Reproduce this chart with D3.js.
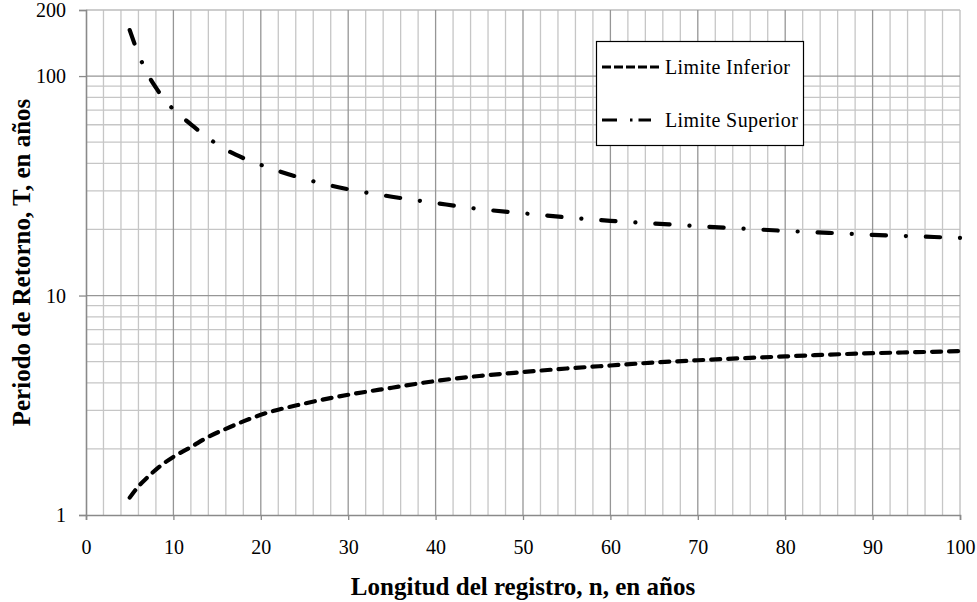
<!DOCTYPE html>
<html>
<head>
<meta charset="utf-8">
<script src="https://cdn.jsdelivr.net/npm/d3@7"></script>
<style>
  html, body { margin: 0; padding: 0; background: #ffffff; }
  svg { display: block; font-family: "Liberation Serif", "Times New Roman", serif; }
</style>
</head>
<body>
<div id="chart"></div>
<script>
// longitud del registro (n, años)
var registro = [ 5, 6, 7, 8, 9, 10, 12, 14, 16, 18, 20, 25, 30, 35, 40, 45, 50, 55, 60, 65, 70, 75, 80, 85, 90, 95, 100 ];

// periodo de retorno T, limites
var limiteInferior = [ 1.2, 1.35, 1.48, 1.61, 1.73, 1.84, 2.04, 2.27, 2.47, 2.67, 2.86, 3.22, 3.53, 3.8, 4.08, 4.3, 4.48, 4.65, 4.8, 4.95, 5.07, 5.18, 5.28, 5.38, 5.46, 5.52, 5.58 ];
var limiteSuperior = [ 162, 126, 103, 88.5, 78, 70.4, 60.3, 52.1, 46.2, 42.3, 39.4, 34, 30.5, 28.2, 26.4, 24.8, 23.7, 22.7, 21.9, 21.3, 20.7, 20.2, 19.7, 19.3, 18.9, 18.6, 18.3 ];

var xTicks = [ 0, 10, 20, 30, 40, 50, 60, 70, 80, 90, 100 ];
var yTicks = [ 1, 10, 100, 200 ];
var seriesNames = [ 'Limite Inferior', 'Limite Superior' ];

( function()
{
  var width = 977,
      height = 602,
      margin = { top: 10, right: 17, bottom: 87, left: 86 },
      x,
      y,
      svg,
      plot,
      grid,
      line,
      i
  ;

  x = d3.scaleLinear()
    .domain( [ 0, 100 ] )
    .range( [ margin.left, width - margin.right ] );

  y = d3.scaleLog()
    .domain( [ 1, 200 ] )
    .range( [ height - margin.bottom, margin.top ] );

  svg = d3.select('#chart')
    .append('svg')
      .attr('width', width )
      .attr('height', height );

  grid = svg.append('g').attr('class', 'grid');

  // minor vertical lines every 2 years
  grid.selectAll('line.vminor')
    .data( d3.range( 2, 100, 2 ).filter( function(d) { return d % 10 !== 0; } ) )
    .enter()
      .append('line')
      .attr('x1', x ).attr('x2', x )
      .attr('y1', y(1) ).attr('y2', y(200) )
      .attr('stroke', '#c6c6c6')
      .attr('stroke-width', 1.3 );

  // minor horizontal lines 2..9, 20..90
  var minorY = [];
  for( i = 2; i <= 9; i++ )
  {
    minorY.push( i );
    minorY.push( i * 10 );
  }
  grid.selectAll('line.hminor')
    .data( minorY )
    .enter()
      .append('line')
      .attr('x1', x(0) ).attr('x2', x(100) )
      .attr('y1', y ).attr('y2', y )
      .attr('stroke', '#c6c6c6')
      .attr('stroke-width', 1.3 );

  // top border
  grid.append('line')
    .attr('x1', x(0) ).attr('x2', x(100) )
    .attr('y1', y(200) ).attr('y2', y(200) )
    .attr('stroke', '#bdbdbd')
    .attr('stroke-width', 1.3 );

  // major vertical lines
  grid.selectAll('line.vmajor')
    .data( xTicks.slice( 1 ) )
    .enter()
      .append('line')
      .attr('x1', x ).attr('x2', x )
      .attr('y1', y(1) ).attr('y2', y(200) )
      .attr('stroke', function(d) { return d === 100 ? '#bdbdbd' : '#969696'; } )
      .attr('stroke-width', 1.3 );

  // major horizontal lines
  grid.selectAll('line.hmajor')
    .data( [ 10, 100 ] )
    .enter()
      .append('line')
      .attr('x1', x(0) ).attr('x2', x(100) )
      .attr('y1', y ).attr('y2', y )
      .attr('stroke', '#969696')
      .attr('stroke-width', 1.3 );

  // axes
  var xAxis = svg.append('g')
    .attr('transform', 'translate(0,' + y(1) + ')')
    .call( d3.axisBottom( x ).tickValues( xTicks ).tickSize( 5 ).tickPadding( 20 ).tickFormat( d3.format('d') ) );

  var yAxis = svg.append('g')
    .attr('transform', 'translate(' + x(0) + ',0)')
    .call( d3.axisLeft( y ).tickValues( yTicks ).tickSize( 7 ).tickPadding( 13 ).tickFormat( d3.format('d') ) );

  [ xAxis, yAxis ].forEach( function( ax )
  {
    ax.select('.domain').attr('stroke', '#8a8a8a').attr('stroke-width', 1.6 );
    ax.selectAll('.tick line').attr('stroke', '#8a8a8a').attr('stroke-width', 1.3 );
    ax.selectAll('.tick text')
      .attr('fill', '#000')
      .style('font-family', '"Liberation Serif", "Times New Roman", serif')
      .style('font-size', '20px');
  } );
  yAxis.selectAll('.tick text').attr('dy', '0.34em');

  // curves
  line = d3.line()
    .curve( d3.curveMonotoneX )
    .x( function(d) { return x( d[0] ); } )
    .y( function(d) { return y( d[1] ); } );

  var seriesData = [ limiteInferior, limiteSuperior ];

  plot = svg.append('g').attr('class', 'series');
  seriesData.forEach( function( vals, k )
  {
    var path = plot.append('path')
      .datum( registro.map( function( n, j ) { return [ n, vals[j] ]; } ) )
      .attr('d', line )
      .attr('fill', 'none')
      .attr('stroke', '#000')
      .attr('stroke-width', 4.2 )
      .attr('stroke-linecap', 'round');

    if( k === 0 )
    {
      path.attr('stroke-dasharray', '9,8');
    }
    else
    {
      // dash - dot pattern, stretched so the line ends on a dot
      var len = path.node().getTotalLength(),
          base = [ 14, 19.5, 0.1, 19.5 ],
          period = d3.sum( base ),
          dotAt = 33.55,
          k2 = Math.round( ( len - dotAt ) / period ),
          s = len / ( k2 * period + dotAt );
      path.attr('stroke-dasharray', base.map( function(v) { return v === 0.1 ? v : v * s; } ).join(',') );
    }
  } );

  // legend
  var legend = svg.append('g').attr('class', 'legend');
  legend.append('rect')
    .attr('x', 596.5 ).attr('y', 41.5 )
    .attr('width', 207 ).attr('height', 104 )
    .attr('fill', '#fff')
    .attr('stroke', '#000')
    .attr('stroke-width', 1.2 );

  seriesNames.forEach( function( name, k )
  {
    var ly = 67 + k * 53;
    legend.append('line')
      .attr('x1', 602 ).attr('x2', k === 0 ? 659 : 651 )
      .attr('y1', ly ).attr('y2', ly )
      .attr('stroke', '#000')
      .attr('stroke-width', 3.2 )
      .attr('stroke-dasharray', k === 0 ? '9,3' : '15,13,2.5,6,14' );
    legend.append('text')
      .attr('x', 665 ).attr('y', ly )
      .attr('dy', '0.34em')
      .style('font-size', '20px')
      .style('letter-spacing', '0.4px')
      .text( name );
  } );

  // axis titles
  svg.append('text')
    .attr('x', ( x(0) + x(100) ) / 2 )
    .attr('y', 595 )
    .attr('text-anchor', 'middle')
    .style('font-size', '25px')
    .style('font-weight', 'bold')
    .text('Longitud del registro, n, en años');

  svg.append('text')
    .attr('transform', 'translate(30,' + ( y(1) + y(200) ) / 2 + ') rotate(-90)')
    .attr('text-anchor', 'middle')
    .style('font-size', '25px')
    .style('font-weight', 'bold')
    .text('Periodo de Retorno, T, en años');
} )();
</script>
</body>
</html>
